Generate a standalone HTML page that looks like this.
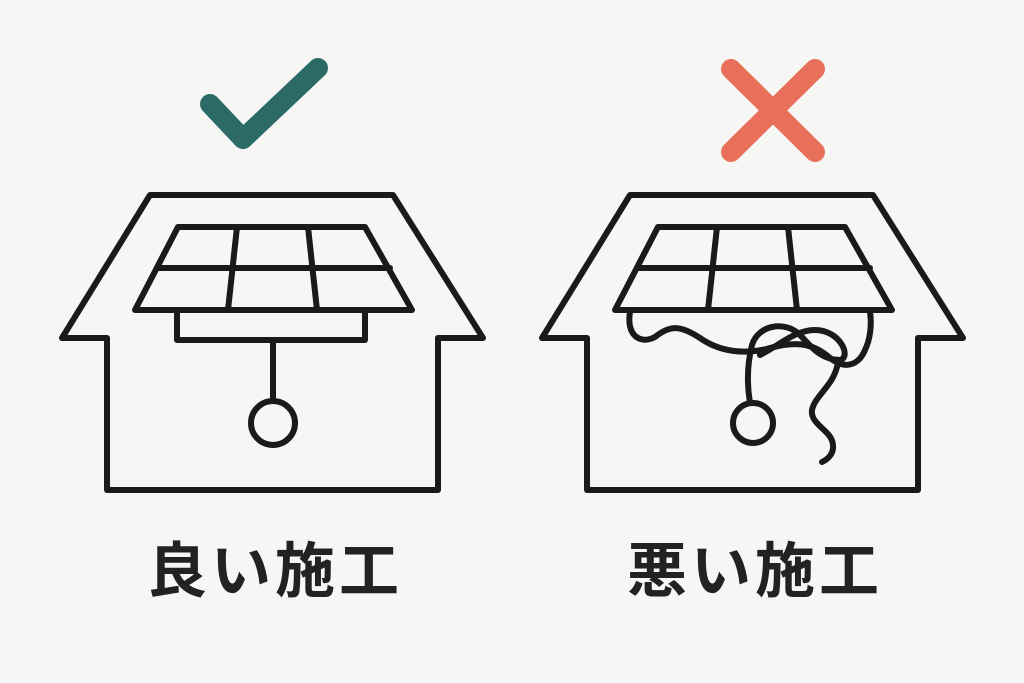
<!DOCTYPE html>
<html><head><meta charset="utf-8"><style>
html,body{margin:0;padding:0;background:#f6f6f5;}
svg{display:block}
text{font-family:"Liberation Sans","Noto Sans CJK JP",sans-serif;font-weight:bold;fill:#222}
</style></head><body>
<svg width="1024" height="683" viewBox="0 0 1024 683">
<rect width="1024" height="683" fill="#f6f6f5"/>
<path d="M210,104 L243,139 L318,68" fill="none" stroke="#2c6a66" stroke-width="20" stroke-linecap="round" stroke-linejoin="round"/>
<path d="M731,69 L815,152 M815,69 L731,152" stroke="#e8705a" stroke-width="20" stroke-linecap="round"/>
<g fill="none" stroke="#1a1a1a" stroke-width="6" stroke-linejoin="round" stroke-linecap="round">
<path d="M107,490 L107,338 L62,338 L150,195 L393,195 L483,338 L438,338 L438,490 Z"/>
<path d="M178,227 L365,227 L412,310 L135,310 Z"/>
<path d="M157,268 L390,268 M237,227 L228,310 M308,227 L317,310"/>
<path d="M177,310 L177,340 L365,340 L365,310"/>
<path d="M273,340 L273,401"/>
<circle cx="273" cy="423" r="22"/>
<path d="M587,490 L587,338 L542,338 L630,195 L873,195 L963,338 L918,338 L918,490 Z"/>
<path d="M658,227 L845,227 L892,310 L615,310 Z"/>
<path d="M637,268 L870,268 M717,227 L708,310 M788,227 L797,310"/>
<circle cx="753" cy="423" r="20"/>
<path d="M630,312 C626,335 640,345 655,337 C670,325 680,325 700,338 C720,352 745,355 770,348 C800,340 815,345 830,358 C848,372 860,362 865,350 C870,340 872,325 870,312"/>
<path d="M750,403 C747,385 747,365 752,345 C758,325 785,320 800,335 C810,345 820,360 840,360 C852,357 840,330 815,330 C795,330 780,345 760,355"/>
<path d="M838,362 C835,385 815,395 812,410 C810,425 832,430 833,445 C834,455 826,460 822,462"/>
</g>
<text x="275" y="592" font-size="60" text-anchor="middle" letter-spacing="4">良い施工</text>
<text x="755" y="592" font-size="60" text-anchor="middle" letter-spacing="4">悪い施工</text>
</svg>
</body></html>
